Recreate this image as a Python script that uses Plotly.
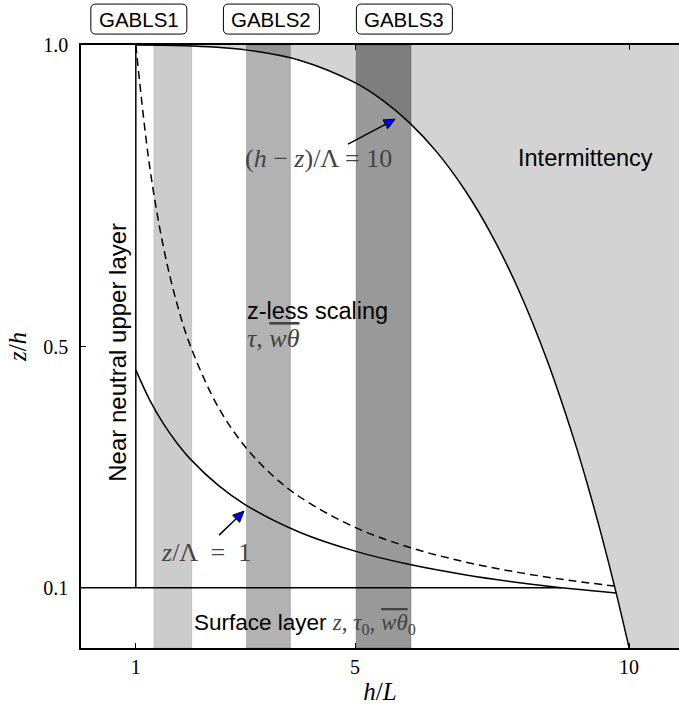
import math
import plotly.graph_objects as go

# ---------------- data ----------------
# GABLS case bands on the h/L axis
band_names = ["GABLS1", "GABLS2", "GABLS3"]
band_start = [1.33, 3.02, 5.02]
band_end = [2.02, 3.82, 6.02]
label_hL = [1.055, 3.474, 5.90]

# (h - z)/Lambda = 10 curve (upper bound of intermittency region)
hL_intermit = [1.0, 2.0, 3.0, 4.0, 5.0, 5.5, 6.0, 6.5, 7.0, 7.5, 8.0, 8.5, 9.0, 9.25, 9.5, 9.75, 10.0]
zh_intermit = [0.9999, 0.9984, 0.9919, 0.9744, 0.9375, 0.9085, 0.8704, 0.8215, 0.7599, 0.6836,
               0.5904, 0.478, 0.3439, 0.2679, 0.1855, 0.0963, 0.0]

# z/Lambda = 1 curve
hL_lower = [1.0, 1.25, 1.5, 1.75, 2.0, 2.5, 3.0, 4.0, 5.0, 6.0, 7.0, 8.0, 9.0, 9.76]
zh_lower = [0.4613, 0.412, 0.3724, 0.34, 0.3128, 0.27, 0.2375, 0.1916, 0.1607, 0.1384,
            0.1216, 0.1083, 0.0977, 0.0911]

# dashed curve (z/L = 1)
hL_dash = [1.0, 1.25, 1.5, 1.75, 2.0, 2.5, 3.0, 3.5, 4.0, 5.0, 6.0, 7.0, 8.0, 9.0, 9.73]
zh_dash = [1.0, 0.8, 0.6667, 0.5714, 0.5, 0.4, 0.3333, 0.2857, 0.25, 0.2, 0.1667, 0.1429,
           0.125, 0.1111, 0.1028]

# surface-layer top and neutral-layer boundary
hL_surface = [0.0, 8.77]
zh_surface = [0.1, 0.1]
hL_neutral = [1.0, 1.0]
zh_neutral = [0.1, 1.0]

x_ticks = [1, 5, 10]
x_ticktext = ["1", "5", "10"]
y_ticks = [0.1, 0.5, 1.0]
y_ticktext = ["0.1", "0.5", "1.0"]
X_MAX = 10.91

# ---------------- styles ----------------
SANS = "Liberation Sans"
SERIF = "Liberation Serif"
band_alpha = [0.2, 0.3, 0.4]
LW = 1.5
MATH_COL = "#444444"
SANS_SIZE = 23.5
MATH_SIZE = 26

fig = go.Figure()

# intermittency region (right of the curve)
fig.add_trace(go.Scatter(
    x=hL_intermit + [X_MAX, X_MAX], y=zh_intermit + [0.0, 1.0],
    fill="toself", fillcolor="#d3d3d3", mode="none", hoverinfo="skip", showlegend=False))

fig.add_trace(go.Scatter(x=hL_intermit, y=zh_intermit, mode="lines",
                         line=dict(color="black", width=LW, shape="spline"), showlegend=False))
fig.add_trace(go.Scatter(x=hL_lower, y=zh_lower, mode="lines",
                         line=dict(color="black", width=LW, shape="spline"), showlegend=False))
fig.add_trace(go.Scatter(x=hL_dash, y=zh_dash, mode="lines",
                         line=dict(color="black", width=LW, dash="8px,5px", shape="spline"),
                         showlegend=False))
fig.add_trace(go.Scatter(x=hL_surface, y=zh_surface, mode="lines",
                         line=dict(color="black", width=LW), showlegend=False))
fig.add_trace(go.Scatter(x=hL_neutral, y=zh_neutral, mode="lines",
                         line=dict(color="black", width=LW), showlegend=False))

shapes = []
for s, e, a in zip(band_start, band_end, band_alpha):
    shapes.append(dict(type="rect", xref="x", yref="paper", x0=s, x1=e, y0=0, y1=1,
                       fillcolor=f"rgba(0,0,0,{a})", line=dict(color=f"rgba(0,0,0,{a*0.6})", width=1),
                       layer="above"))

box_path = ("M -43,-15 L 43,-15 Q 48,-15 48,-10 L 48,10 Q 48,15 43,15 L -43,15 "
            "Q -48,15 -48,10 L -48,-10 Q -48,-15 -43,-15 Z")
annotations = []
for name, xc in zip(band_names, label_hL):
    shapes.append(dict(type="path", xref="x", yref="paper", xsizemode="pixel", ysizemode="pixel",
                       xanchor=xc, yanchor=1.043, path=box_path,
                       line=dict(color="black", width=1), fillcolor="white", layer="above"))
    annotations.append(dict(x=xc, y=1.043, xref="x", yref="paper", text=name, showarrow=False,
                            font=dict(family=SANS, size=20.5, color="black"),
                            xanchor="center", yanchor="middle"))

def txt(x, y, text, size=SANS_SIZE, family=SANS, color="black", xanchor="center", angle=0):
    annotations.append(dict(x=x, y=y, xref="x", yref="y", text=text, showarrow=False,
                            font=dict(family=family, size=size, color=color),
                            xanchor=xanchor, yanchor="middle", textangle=angle))

OVL = "<span style='text-decoration:overline'>"
txt(0.66, 0.49, "Near neutral upper layer", size=24, angle=-90)
txt(9.20, 0.8126, "Intermittency")
txt(3.0, 0.559, "z-less scaling", xanchor="left")
txt(3.0, 0.513, "<i>τ</i>, " + OVL + "<i>wθ</i></span>", size=MATH_SIZE, family=SERIF,
    color=MATH_COL, xanchor="left")
txt(2.02, 0.04,
    "Surface layer <span style='font-family:Liberation Serif;color:#444444;font-size:23px'>"
    "<i>z</i>, <i>τ</i><sub>0</sub>, " + OVL + "<i>wθ</i></span><sub>0</sub></span>",
    size=22.5, xanchor="left")
txt(4.33, 0.8126, "(<i>h</i> − <i>z</i>)/Λ = 10", size=MATH_SIZE, family=SERIF, color=MATH_COL)
txt(2.28, 0.159, "<i>z</i>/Λ  =  1", size=MATH_SIZE, family=SERIF, color=MATH_COL)

# arrows: black shaft (pixel-sized line) + blue head (pixel-sized triangle), anchored at the tip
arrows = [(5.73, 0.877, -47, -25), (2.975, 0.227, -25, -24)]  # tip, tail offset in px (y up)
for xt, yt, tx, ty in arrows:
    L = math.hypot(tx, ty)
    ux, uy = -tx / L, -ty / L          # unit vector tail -> tip
    px, py = -uy, ux
    hl, hw = 11, 5
    bx, by = -ux * hl, -uy * hl
    shapes.append(dict(type="line", xref="x", yref="y", xsizemode="pixel", ysizemode="pixel",
                       xanchor=xt, yanchor=yt, x0=tx, y0=ty, x1=bx, y1=by,
                       line=dict(color="black", width=1.5), layer="above"))
    path = (f"M 0,0 L {bx + px*hw:.2f},{by + py*hw:.2f} "
            f"L {bx - px*hw:.2f},{by - py*hw:.2f} Z")
    shapes.append(dict(type="path", xref="x", yref="y", xsizemode="pixel", ysizemode="pixel",
                       xanchor=xt, yanchor=yt, path=path, fillcolor="blue",
                       line=dict(color="black", width=1), layer="above"))

fig.update_layout(
    width=679, height=712,
    margin=dict(l=81, r=0, t=45, b=64),
    plot_bgcolor="white", paper_bgcolor="white",
    shapes=shapes, annotations=annotations,
    showlegend=False,
    xaxis=dict(range=[0, X_MAX], tickvals=x_ticks, ticktext=x_ticktext, ticks="inside",
               ticklen=5, tickcolor="black", showline=True, linecolor="black", linewidth=1.5,
               mirror="ticks", showgrid=False, zeroline=False,
               tickfont=dict(family=SERIF, size=20, color="black"),
               title=dict(text="<i>h</i>/<i>L</i>", font=dict(family=SERIF, size=25, color="black"),
                          standoff=6),
               ticklabelstandoff=0),
    yaxis=dict(range=[0, 1], tickvals=y_ticks, ticktext=y_ticktext, ticks="inside",
               ticklen=5, tickcolor="black", showline=True, linecolor="black", linewidth=1.5,
               mirror=False, showgrid=False, zeroline=False,
               tickfont=dict(family=SERIF, size=20, color="black"),
               title=dict(text="<i>z</i>/<i>h</i>", font=dict(family=SERIF, size=25, color="black"),
                          standoff=10),
               ticklabelstandoff=7),
)

fig.write_html("out.html", config={"displayModeBar": False},
               post_script="document.body.style.margin='0';")
